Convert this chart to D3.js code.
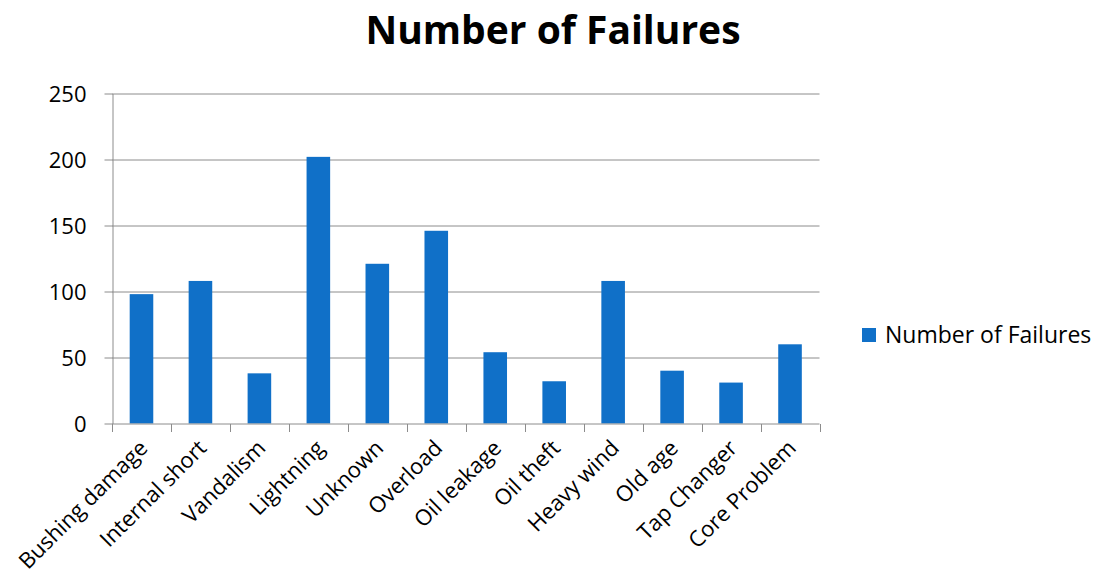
<!DOCTYPE html>
<html>
<head>
<meta charset="utf-8">
<script src="https://cdn.jsdelivr.net/npm/d3@7"></script>
<style>
  html, body { margin: 0; padding: 0; background: #fff; }
  svg { display: block; }
  text { font-family: "Open Sans", Lato, sans-serif; fill: #000; }
</style>
</head>
<body>
<svg id="chart" width="1094" height="580"></svg>
<script>
// Transformer failure causes and their counts
const categories = ["Bushing damage", "Internal short", "Vandalism", "Lightning", "Unknown",
  "Overload", "Oil leakage", "Oil theft", "Heavy wind", "Old age", "Tap Changer", "Core Problem"];
const failures = [98, 108, 38, 202, 121, 146, 54, 32, 108, 40, 31, 60];
const yTicks = [0, 50, 100, 150, 200, 250];
const seriesName = "Number of Failures";
const chartTitle = "Number of Failures";

const svg = d3.select("#chart");
const margin = { left: 112, top: 93.5, right: 1094 - 819.5, bottom: 580 - 423.5 };
const W = 1094 - margin.left - margin.right;
const H = 580 - margin.top - margin.bottom;
const barColor = "#1070c8";
const gridColor = "#8c8c8c";

const x = d3.scaleBand().domain(categories).range([0, W]).paddingInner(0.6).paddingOuter(0.3);
const xEdge = d3.scaleLinear().domain([0, categories.length]).range([0, W]);
const y = d3.scaleLinear().domain([0, 250]).range([H, 0]);

// Title
svg.append("text")
  .attr("x", 553)
  .attr("y", 44)
  .attr("text-anchor", "middle")
  .style("font-weight", "bold")
  .style("font-size", "39px")
  .text(chartTitle);

const g = svg.append("g").attr("transform", `translate(${margin.left},${margin.top})`);

// Horizontal gridlines
g.append("g").selectAll("line")
  .data(yTicks.filter(d => d > 0))
  .join("line")
  .attr("x1", 0).attr("x2", W)
  .attr("y1", d => Math.round(y(d)) + 0.5).attr("y2", d => Math.round(y(d)) + 0.5)
  .attr("stroke", gridColor).attr("stroke-width", 1);

// Bars
g.append("g").selectAll("rect")
  .data(categories)
  .join("rect")
  .attr("x", d => x(d))
  .attr("width", x.bandwidth())
  .attr("y", (d, i) => y(failures[i]))
  .attr("height", (d, i) => H - y(failures[i]))
  .attr("fill", barColor);

// Y axis
const yAxis = g.append("g")
  .attr("transform", "translate(0.5,0)")
  .call(d3.axisLeft(y).tickValues(yTicks).tickSize(8).tickPadding(18).tickSizeOuter(0));
yAxis.select(".domain").attr("stroke", gridColor);
yAxis.selectAll(".tick line").attr("stroke", gridColor);
yAxis.selectAll(".tick text")
  .style("font-size", "22px")
  .style("font-family", "'Open Sans', Lato, sans-serif")
  .attr("dy", "0.35em");

// X axis line and ticks at category boundaries
const xAxisG = g.append("g").attr("transform", `translate(0,${Math.round(H) + 0.5})`);
xAxisG.append("line").attr("x1", 0).attr("x2", W).attr("stroke", gridColor);
xAxisG.selectAll("line.tk")
  .data(d3.range(categories.length + 1))
  .join("line")
  .attr("class", "tk")
  .attr("x1", d => Math.round(xEdge(d)) + 0.5).attr("x2", d => Math.round(xEdge(d)) + 0.5)
  .attr("y1", 0).attr("y2", 8)
  .attr("stroke", gridColor);

// Rotated category labels
xAxisG.selectAll("text")
  .data(categories)
  .join("text")
  .attr("text-anchor", "end")
  .attr("transform", d => `translate(${x(d) + x.bandwidth() / 2 + 2},${20}) rotate(-45)`)
  .attr("dy", "0.35em")
  .style("font-size", "22px")
  .text(d => d);

// Legend
const legend = svg.append("g").attr("transform", "translate(862,328)");
legend.append("rect").attr("width", 14).attr("height", 14).attr("fill", barColor);
legend.append("text")
  .attr("x", 23).attr("y", 7).attr("dy", "0.35em")
  .style("font-size", "23px")
  .text(seriesName);
</script>
</body>
</html>
